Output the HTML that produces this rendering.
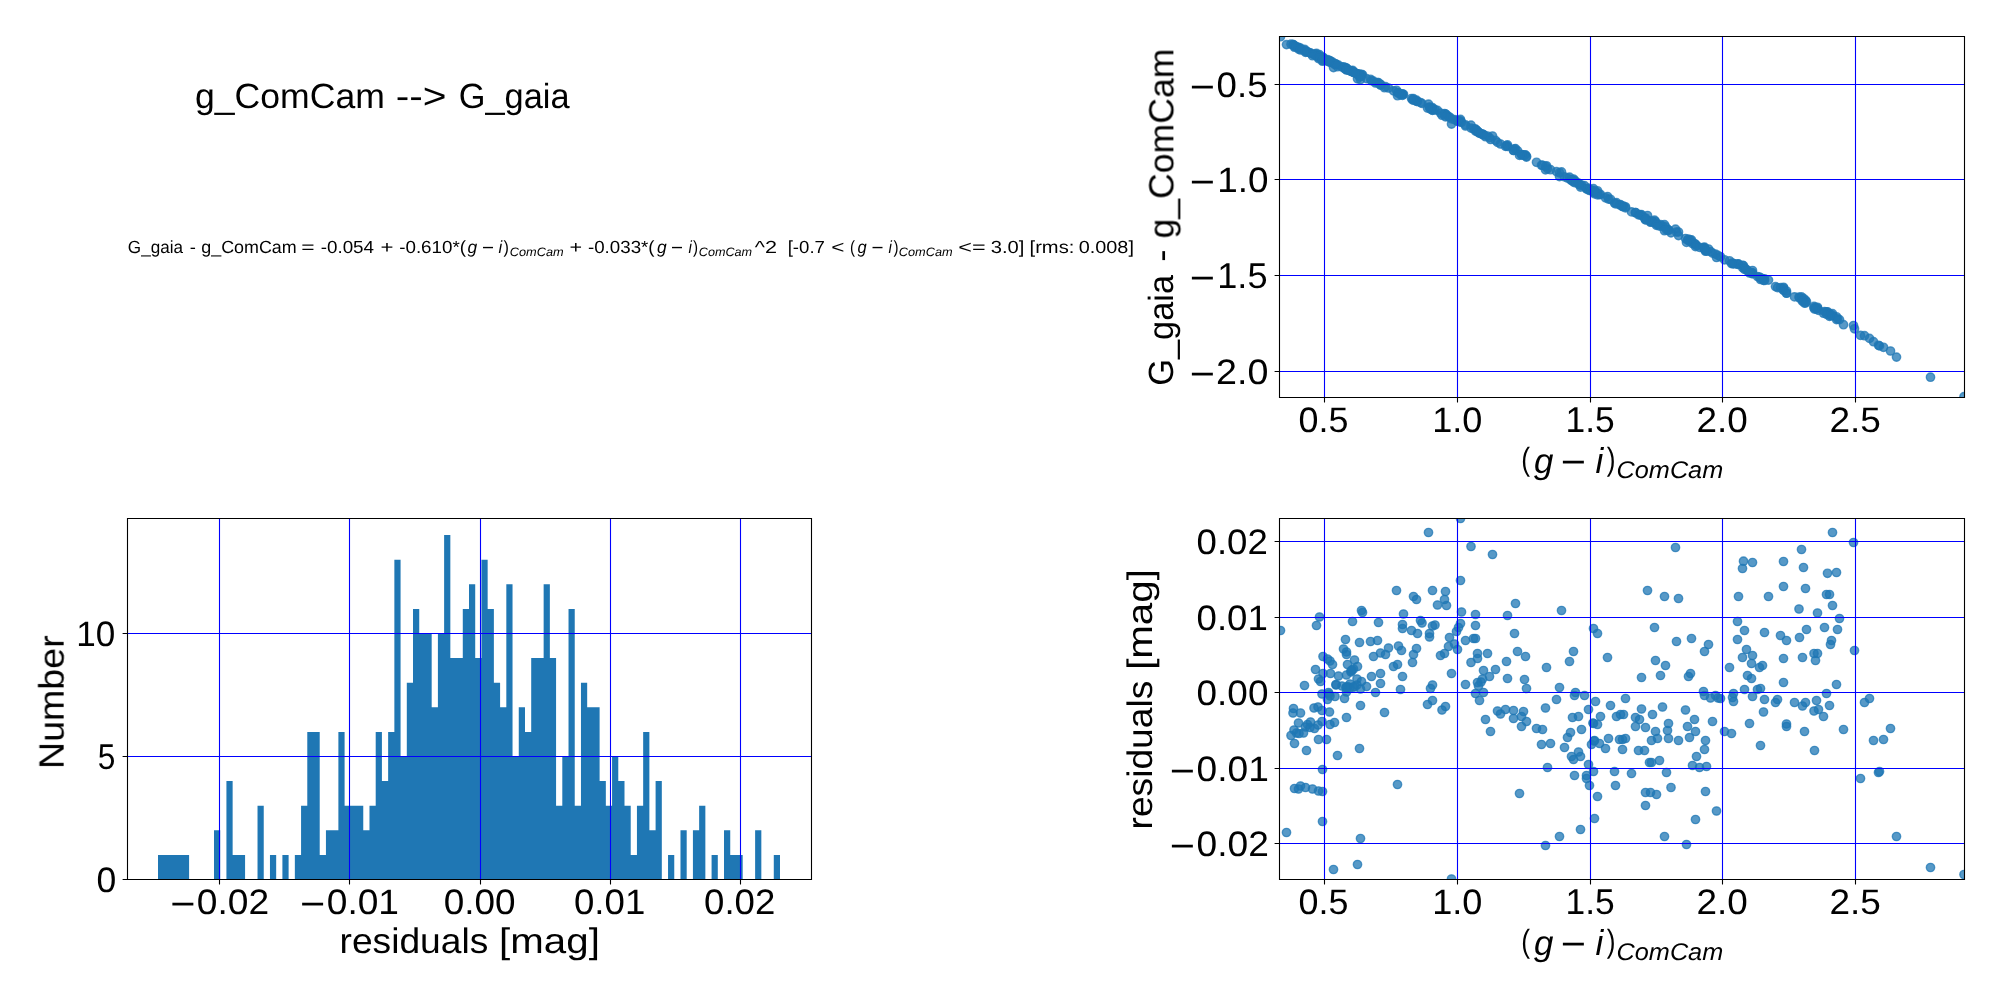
<!DOCTYPE html>
<html><head><meta charset="utf-8"><title>g_ComCam to G_gaia</title>
<style>
html,body{margin:0;padding:0;background:#fff;}
body{width:2000px;height:1000px;overflow:hidden;}
svg{display:block;font-family:"Liberation Sans",sans-serif;font-kerning:none;}
text{fill:#000;white-space:pre;text-rendering:geometricPrecision;}
</style></head><body>
<svg width="2000" height="1000" viewBox="0 0 2000 1000">
<rect width="2000" height="1000" fill="#fff"/>
<defs>
<clipPath id="cTR"><rect x="1279.5" y="36.5" width="685.0" height="361.0"/></clipPath>
<clipPath id="cBL"><rect x="127.5" y="518.5" width="684.0" height="361.0"/></clipPath>
<clipPath id="cBR"><rect x="1279.5" y="518.5" width="685.0" height="361.0"/></clipPath>
</defs>
<g clip-path="url(#cTR)" fill="#1f77b4" fill-opacity="0.75" stroke="#1f77b4" stroke-opacity="0.75" stroke-width="1.39">
<circle cx="1460.5" cy="119.4" r="4.17"/><circle cx="1428.5" cy="104.2" r="4.17"/><circle cx="1471.0" cy="125.2" r="4.17"/><circle cx="1460.5" cy="120.9" r="4.17"/><circle cx="1396.5" cy="90.3" r="4.17"/><circle cx="1432.5" cy="107.6" r="4.17"/><circle cx="1445.5" cy="113.9" r="4.17"/><circle cx="1413.5" cy="98.6" r="4.17"/><circle cx="1416.5" cy="100.1" r="4.17"/><circle cx="1444.5" cy="113.6" r="4.17"/><circle cx="1437.5" cy="110.4" r="4.17"/><circle cx="1446.5" cy="114.8" r="4.17"/><circle cx="1361.5" cy="74.3" r="4.17"/><circle cx="1362.5" cy="74.8" r="4.17"/><circle cx="1403.5" cy="94.3" r="4.17"/><circle cx="1461.5" cy="122.2" r="4.17"/><circle cx="1492.5" cy="136.0" r="4.17"/><circle cx="1515.5" cy="148.6" r="4.17"/><circle cx="1561.5" cy="171.9" r="4.17"/><circle cx="1647.5" cy="215.5" r="4.17"/><circle cx="1664.5" cy="224.6" r="4.17"/><circle cx="1475.5" cy="129.1" r="4.17"/><circle cx="1675.5" cy="229.1" r="4.17"/><circle cx="1678.5" cy="232.0" r="4.17"/><circle cx="1743.5" cy="265.7" r="4.17"/><circle cx="1752.5" cy="270.5" r="4.17"/><circle cx="1742.5" cy="265.3" r="4.17"/><circle cx="1738.5" cy="263.9" r="4.17"/><circle cx="1768.5" cy="280.1" r="4.17"/><circle cx="1783.5" cy="287.3" r="4.17"/><circle cx="1783.5" cy="288.0" r="4.17"/><circle cx="1801.5" cy="296.9" r="4.17"/><circle cx="1803.5" cy="298.4" r="4.17"/><circle cx="1805.5" cy="300.1" r="4.17"/><circle cx="1799.0" cy="297.0" r="4.17"/><circle cx="1817.5" cy="307.3" r="4.17"/><circle cx="1827.5" cy="311.8" r="4.17"/><circle cx="1836.5" cy="316.8" r="4.17"/><circle cx="1826.5" cy="311.8" r="4.17"/><circle cx="1829.5" cy="313.5" r="4.17"/><circle cx="1832.5" cy="313.6" r="4.17"/><circle cx="1832.5" cy="315.4" r="4.17"/><circle cx="1853.5" cy="325.5" r="4.17"/><circle cx="1319.5" cy="54.6" r="4.17"/><circle cx="1316.5" cy="53.4" r="4.17"/><circle cx="1280.5" cy="36.7" r="4.17"/><circle cx="1352.5" cy="70.3" r="4.17"/><circle cx="1378.5" cy="82.6" r="4.17"/><circle cx="1402.5" cy="94.1" r="4.17"/><circle cx="1402.5" cy="94.2" r="4.17"/><circle cx="1411.5" cy="98.5" r="4.17"/><circle cx="1417.5" cy="101.5" r="4.17"/><circle cx="1420.5" cy="102.6" r="4.17"/><circle cx="1422.0" cy="103.4" r="4.17"/><circle cx="1432.5" cy="108.5" r="4.17"/><circle cx="1435.0" cy="109.7" r="4.17"/><circle cx="1429.5" cy="107.2" r="4.17"/><circle cx="1429.5" cy="107.3" r="4.17"/><circle cx="1460.5" cy="122.0" r="4.17"/><circle cx="1458.5" cy="121.2" r="4.17"/><circle cx="1456.5" cy="120.3" r="4.17"/><circle cx="1449.5" cy="117.0" r="4.17"/><circle cx="1465.5" cy="124.9" r="4.17"/><circle cx="1454.5" cy="119.6" r="4.17"/><circle cx="1448.5" cy="116.8" r="4.17"/><circle cx="1457.5" cy="121.2" r="4.17"/><circle cx="1444.5" cy="115.0" r="4.17"/><circle cx="1440.5" cy="113.1" r="4.17"/><circle cx="1345.5" cy="67.5" r="4.17"/><circle cx="1359.5" cy="74.2" r="4.17"/><circle cx="1370.5" cy="79.3" r="4.17"/><circle cx="1377.5" cy="82.6" r="4.17"/><circle cx="1388.5" cy="88.0" r="4.17"/><circle cx="1398.5" cy="92.7" r="4.17"/><circle cx="1401.5" cy="94.2" r="4.17"/><circle cx="1416.5" cy="101.4" r="4.17"/><circle cx="1413.5" cy="100.1" r="4.17"/><circle cx="1412.5" cy="99.8" r="4.17"/><circle cx="1380.5" cy="84.3" r="4.17"/><circle cx="1385.5" cy="86.7" r="4.17"/><circle cx="1373.5" cy="81.1" r="4.17"/><circle cx="1343.5" cy="66.8" r="4.17"/><circle cx="1346.5" cy="68.3" r="4.17"/><circle cx="1346.5" cy="68.4" r="4.17"/><circle cx="1323.0" cy="57.3" r="4.17"/><circle cx="1327.5" cy="59.5" r="4.17"/><circle cx="1330.0" cy="60.7" r="4.17"/><circle cx="1332.5" cy="62.0" r="4.17"/><circle cx="1354.5" cy="72.3" r="4.17"/><circle cx="1347.5" cy="69.1" r="4.17"/><circle cx="1357.5" cy="73.8" r="4.17"/><circle cx="1353.5" cy="72.0" r="4.17"/><circle cx="1351.0" cy="70.9" r="4.17"/><circle cx="1393.5" cy="90.8" r="4.17"/><circle cx="1397.5" cy="92.7" r="4.17"/><circle cx="1315.5" cy="54.1" r="4.17"/><circle cx="1323.0" cy="57.7" r="4.17"/><circle cx="1330.5" cy="61.3" r="4.17"/><circle cx="1338.5" cy="65.1" r="4.17"/><circle cx="1346.5" cy="68.9" r="4.17"/><circle cx="1371.5" cy="80.7" r="4.17"/><circle cx="1380.5" cy="84.8" r="4.17"/><circle cx="1402.5" cy="95.4" r="4.17"/><circle cx="1451.5" cy="118.9" r="4.17"/><circle cx="1318.5" cy="55.7" r="4.17"/><circle cx="1320.5" cy="56.7" r="4.17"/><circle cx="1304.5" cy="49.3" r="4.17"/><circle cx="1357.0" cy="73.9" r="4.17"/><circle cx="1361.5" cy="76.1" r="4.17"/><circle cx="1336.0" cy="64.1" r="4.17"/><circle cx="1342.0" cy="67.0" r="4.17"/><circle cx="1346.0" cy="69.0" r="4.17"/><circle cx="1350.0" cy="70.8" r="4.17"/><circle cx="1353.0" cy="72.2" r="4.17"/><circle cx="1357.0" cy="74.1" r="4.17"/><circle cx="1360.5" cy="75.8" r="4.17"/><circle cx="1366.5" cy="78.6" r="4.17"/><circle cx="1380.5" cy="85.1" r="4.17"/><circle cx="1400.5" cy="94.8" r="4.17"/><circle cx="1432.5" cy="110.0" r="4.17"/><circle cx="1430.5" cy="109.1" r="4.17"/><circle cx="1465.5" cy="126.0" r="4.17"/><circle cx="1471.0" cy="128.1" r="4.17"/><circle cx="1375.5" cy="83.0" r="4.17"/><circle cx="1322.0" cy="57.8" r="4.17"/><circle cx="1328.5" cy="60.8" r="4.17"/><circle cx="1330.0" cy="61.6" r="4.17"/><circle cx="1335.0" cy="64.0" r="4.17"/><circle cx="1327.5" cy="60.5" r="4.17"/><circle cx="1344.5" cy="68.6" r="4.17"/><circle cx="1346.5" cy="69.3" r="4.17"/><circle cx="1360.5" cy="76.2" r="4.17"/><circle cx="1432.5" cy="110.4" r="4.17"/><circle cx="1427.5" cy="108.1" r="4.17"/><circle cx="1445.5" cy="116.8" r="4.17"/><circle cx="1442.0" cy="115.2" r="4.17"/><circle cx="1293.5" cy="44.7" r="4.17"/><circle cx="1300.5" cy="48.1" r="4.17"/><circle cx="1314.0" cy="54.3" r="4.17"/><circle cx="1318.0" cy="56.2" r="4.17"/><circle cx="1322.0" cy="58.2" r="4.17"/><circle cx="1329.5" cy="61.8" r="4.17"/><circle cx="1384.5" cy="87.7" r="4.17"/><circle cx="1507.5" cy="144.9" r="4.17"/><circle cx="1475.5" cy="129.4" r="4.17"/><circle cx="1473.5" cy="128.8" r="4.17"/><circle cx="1475.5" cy="129.7" r="4.17"/><circle cx="1514.5" cy="148.9" r="4.17"/><circle cx="1593.5" cy="188.6" r="4.17"/><circle cx="1597.5" cy="190.8" r="4.17"/><circle cx="1654.5" cy="220.1" r="4.17"/><circle cx="1477.5" cy="131.1" r="4.17"/><circle cx="1477.5" cy="131.2" r="4.17"/><circle cx="1487.5" cy="136.0" r="4.17"/><circle cx="1517.5" cy="150.8" r="4.17"/><circle cx="1525.5" cy="154.9" r="4.17"/><circle cx="1506.5" cy="145.6" r="4.17"/><circle cx="1573.5" cy="179.0" r="4.17"/><circle cx="1569.5" cy="177.2" r="4.17"/><circle cx="1546.5" cy="165.8" r="4.17"/><circle cx="1607.5" cy="196.5" r="4.17"/><circle cx="1655.5" cy="221.5" r="4.17"/><circle cx="1665.5" cy="226.8" r="4.17"/><circle cx="1660.5" cy="224.5" r="4.17"/><circle cx="1641.5" cy="214.6" r="4.17"/><circle cx="1483.5" cy="134.5" r="4.17"/><circle cx="1495.5" cy="140.4" r="4.17"/><circle cx="1489.5" cy="137.6" r="4.17"/><circle cx="1482.5" cy="134.2" r="4.17"/><circle cx="1477.5" cy="131.8" r="4.17"/><circle cx="1481.0" cy="133.5" r="4.17"/><circle cx="1478.5" cy="132.4" r="4.17"/><circle cx="1507.5" cy="146.5" r="4.17"/><circle cx="1524.5" cy="155.0" r="4.17"/><circle cx="1526.5" cy="156.3" r="4.17"/><circle cx="1559.5" cy="172.8" r="4.17"/><circle cx="1575.5" cy="181.1" r="4.17"/><circle cx="1574.5" cy="180.6" r="4.17"/><circle cx="1584.5" cy="185.7" r="4.17"/><circle cx="1556.5" cy="171.6" r="4.17"/><circle cx="1475.5" cy="131.1" r="4.17"/><circle cx="1483.5" cy="135.0" r="4.17"/><circle cx="1479.5" cy="133.3" r="4.17"/><circle cx="1595.5" cy="191.5" r="4.17"/><circle cx="1625.5" cy="206.8" r="4.17"/><circle cx="1610.5" cy="199.3" r="4.17"/><circle cx="1588.5" cy="188.1" r="4.17"/><circle cx="1545.5" cy="166.3" r="4.17"/><circle cx="1497.5" cy="142.4" r="4.17"/><circle cx="1505.5" cy="146.3" r="4.17"/><circle cx="1513.5" cy="150.3" r="4.17"/><circle cx="1523.5" cy="155.3" r="4.17"/><circle cx="1641.5" cy="215.4" r="4.17"/><circle cx="1662.5" cy="226.3" r="4.17"/><circle cx="1839.5" cy="319.6" r="4.17"/><circle cx="1737.5" cy="264.0" r="4.17"/><circle cx="1744.5" cy="267.9" r="4.17"/><circle cx="1737.5" cy="264.4" r="4.17"/><circle cx="1764.5" cy="278.8" r="4.17"/><circle cx="1780.5" cy="287.6" r="4.17"/><circle cx="1786.5" cy="291.0" r="4.17"/><circle cx="1799.5" cy="298.0" r="4.17"/><circle cx="1806.5" cy="301.7" r="4.17"/><circle cx="1824.5" cy="311.5" r="4.17"/><circle cx="1837.5" cy="318.8" r="4.17"/><circle cx="1831.5" cy="315.7" r="4.17"/><circle cx="1830.5" cy="315.3" r="4.17"/><circle cx="1854.5" cy="328.8" r="4.17"/><circle cx="1676.5" cy="232.0" r="4.17"/><circle cx="1691.5" cy="239.9" r="4.17"/><circle cx="1708.5" cy="249.0" r="4.17"/><circle cx="1704.5" cy="247.1" r="4.17"/><circle cx="1746.5" cy="269.5" r="4.17"/><circle cx="1752.5" cy="272.9" r="4.17"/><circle cx="1742.5" cy="267.6" r="4.17"/><circle cx="1751.5" cy="272.6" r="4.17"/><circle cx="1762.5" cy="278.6" r="4.17"/><circle cx="1759.5" cy="277.0" r="4.17"/><circle cx="1729.5" cy="260.8" r="4.17"/><circle cx="1783.5" cy="289.8" r="4.17"/><circle cx="1802.5" cy="300.2" r="4.17"/><circle cx="1814.0" cy="306.4" r="4.17"/><circle cx="1817.5" cy="308.3" r="4.17"/><circle cx="1815.5" cy="307.4" r="4.17"/><circle cx="1690.5" cy="240.2" r="4.17"/><circle cx="1688.5" cy="239.2" r="4.17"/><circle cx="1747.5" cy="270.7" r="4.17"/><circle cx="1751.5" cy="272.9" r="4.17"/><circle cx="1783.5" cy="290.4" r="4.17"/><circle cx="1836.5" cy="319.6" r="4.17"/><circle cx="1744.5" cy="269.4" r="4.17"/><circle cx="1757.5" cy="276.5" r="4.17"/><circle cx="1760.5" cy="278.1" r="4.17"/><circle cx="1703.5" cy="247.6" r="4.17"/><circle cx="1704.5" cy="248.2" r="4.17"/><circle cx="1710.5" cy="251.5" r="4.17"/><circle cx="1715.5" cy="254.1" r="4.17"/><circle cx="1718.0" cy="255.4" r="4.17"/><circle cx="1720.5" cy="256.8" r="4.17"/><circle cx="1733.5" cy="263.6" r="4.17"/><circle cx="1732.5" cy="263.2" r="4.17"/><circle cx="1733.5" cy="263.8" r="4.17"/><circle cx="1752.5" cy="273.9" r="4.17"/><circle cx="1764.5" cy="280.5" r="4.17"/><circle cx="1777.5" cy="287.6" r="4.17"/><circle cx="1775.5" cy="286.6" r="4.17"/><circle cx="1794.5" cy="296.9" r="4.17"/><circle cx="1805.5" cy="303.0" r="4.17"/><circle cx="1802.5" cy="301.4" r="4.17"/><circle cx="1816.5" cy="309.0" r="4.17"/><circle cx="1826.5" cy="314.3" r="4.17"/><circle cx="1829.5" cy="316.3" r="4.17"/><circle cx="1818.5" cy="310.3" r="4.17"/><circle cx="1814.0" cy="307.9" r="4.17"/><circle cx="1763.5" cy="280.3" r="4.17"/><circle cx="1685.5" cy="238.5" r="4.17"/><circle cx="1864.5" cy="335.7" r="4.17"/><circle cx="1869.5" cy="338.4" r="4.17"/><circle cx="1293.0" cy="44.6" r="4.17"/><circle cx="1346.5" cy="70.0" r="4.17"/><circle cx="1298.5" cy="47.4" r="4.17"/><circle cx="1310.5" cy="53.0" r="4.17"/><circle cx="1307.5" cy="51.7" r="4.17"/><circle cx="1305.5" cy="50.8" r="4.17"/><circle cx="1310.0" cy="52.9" r="4.17"/><circle cx="1314.5" cy="55.1" r="4.17"/><circle cx="1318.0" cy="56.6" r="4.17"/><circle cx="1322.0" cy="58.4" r="4.17"/><circle cx="1330.0" cy="62.3" r="4.17"/><circle cx="1334.5" cy="64.4" r="4.17"/><circle cx="1294.0" cy="45.5" r="4.17"/><circle cx="1296.5" cy="46.7" r="4.17"/><circle cx="1291.0" cy="44.2" r="4.17"/><circle cx="1303.5" cy="50.0" r="4.17"/><circle cx="1299.0" cy="47.9" r="4.17"/><circle cx="1318.5" cy="57.2" r="4.17"/><circle cx="1326.5" cy="61.0" r="4.17"/><circle cx="1294.5" cy="46.1" r="4.17"/><circle cx="1306.5" cy="51.9" r="4.17"/><circle cx="1337.5" cy="66.7" r="4.17"/><circle cx="1359.5" cy="76.8" r="4.17"/><circle cx="1322.5" cy="59.9" r="4.17"/><circle cx="1397.5" cy="95.7" r="4.17"/><circle cx="1294.5" cy="47.2" r="4.17"/><circle cx="1298.5" cy="49.1" r="4.17"/><circle cx="1300.5" cy="50.0" r="4.17"/><circle cx="1305.5" cy="52.3" r="4.17"/><circle cx="1312.5" cy="55.7" r="4.17"/><circle cx="1318.5" cy="58.6" r="4.17"/><circle cx="1322.5" cy="60.5" r="4.17"/><circle cx="1500.5" cy="144.0" r="4.17"/><circle cx="1485.5" cy="136.7" r="4.17"/><circle cx="1490.5" cy="139.5" r="4.17"/><circle cx="1513.5" cy="150.5" r="4.17"/><circle cx="1521.5" cy="154.5" r="4.17"/><circle cx="1526.5" cy="157.1" r="4.17"/><circle cx="1521.5" cy="154.7" r="4.17"/><circle cx="1536.5" cy="162.3" r="4.17"/><circle cx="1542.5" cy="165.3" r="4.17"/><circle cx="1572.5" cy="180.2" r="4.17"/><circle cx="1578.5" cy="183.2" r="4.17"/><circle cx="1600.5" cy="194.4" r="4.17"/><circle cx="1593.0" cy="190.7" r="4.17"/><circle cx="1597.5" cy="193.1" r="4.17"/><circle cx="1581.5" cy="185.0" r="4.17"/><circle cx="1570.5" cy="179.5" r="4.17"/><circle cx="1567.5" cy="178.1" r="4.17"/><circle cx="1541.5" cy="165.2" r="4.17"/><circle cx="1550.5" cy="169.7" r="4.17"/><circle cx="1564.5" cy="176.9" r="4.17"/><circle cx="1578.5" cy="184.1" r="4.17"/><circle cx="1580.5" cy="185.2" r="4.17"/><circle cx="1571.5" cy="180.6" r="4.17"/><circle cx="1573.5" cy="181.7" r="4.17"/><circle cx="1588.5" cy="189.5" r="4.17"/><circle cx="1547.5" cy="168.8" r="4.17"/><circle cx="1574.5" cy="182.6" r="4.17"/><circle cx="1586.5" cy="188.8" r="4.17"/><circle cx="1586.5" cy="188.8" r="4.17"/><circle cx="1589.5" cy="190.5" r="4.17"/><circle cx="1593.5" cy="192.2" r="4.17"/><circle cx="1597.5" cy="194.9" r="4.17"/><circle cx="1519.5" cy="155.4" r="4.17"/><circle cx="1591.5" cy="190.5" r="4.17"/><circle cx="1594.5" cy="192.0" r="4.17"/><circle cx="1599.5" cy="194.6" r="4.17"/><circle cx="1605.5" cy="197.8" r="4.17"/><circle cx="1608.5" cy="199.1" r="4.17"/><circle cx="1616.5" cy="202.7" r="4.17"/><circle cx="1620.5" cy="204.7" r="4.17"/><circle cx="1623.5" cy="206.2" r="4.17"/><circle cx="1635.5" cy="212.5" r="4.17"/><circle cx="1639.5" cy="214.6" r="4.17"/><circle cx="1635.5" cy="212.7" r="4.17"/><circle cx="1645.5" cy="218.0" r="4.17"/><circle cx="1652.5" cy="221.3" r="4.17"/><circle cx="1655.5" cy="223.3" r="4.17"/><circle cx="1668.5" cy="229.9" r="4.17"/><circle cx="1667.5" cy="229.5" r="4.17"/><circle cx="1668.5" cy="230.3" r="4.17"/><circle cx="1657.5" cy="224.5" r="4.17"/><circle cx="1651.5" cy="221.4" r="4.17"/><circle cx="1619.5" cy="204.8" r="4.17"/><circle cx="1622.5" cy="206.3" r="4.17"/><circle cx="1625.5" cy="207.9" r="4.17"/><circle cx="1622.5" cy="206.6" r="4.17"/><circle cx="1638.5" cy="214.9" r="4.17"/><circle cx="1644.5" cy="218.0" r="4.17"/><circle cx="1649.5" cy="220.9" r="4.17"/><circle cx="1651.5" cy="222.0" r="4.17"/><circle cx="1659.5" cy="226.1" r="4.17"/><circle cx="1614.5" cy="203.0" r="4.17"/><circle cx="1631.5" cy="211.9" r="4.17"/><circle cx="1666.5" cy="230.1" r="4.17"/><circle cx="1615.5" cy="203.9" r="4.17"/><circle cx="1645.5" cy="219.6" r="4.17"/><circle cx="1650.5" cy="222.2" r="4.17"/><circle cx="1656.5" cy="225.4" r="4.17"/><circle cx="1645.5" cy="219.9" r="4.17"/><circle cx="1671.0" cy="232.8" r="4.17"/><circle cx="1823.5" cy="313.2" r="4.17"/><circle cx="1694.5" cy="243.5" r="4.17"/><circle cx="1712.5" cy="253.1" r="4.17"/><circle cx="1687.5" cy="240.0" r="4.17"/><circle cx="1695.5" cy="244.3" r="4.17"/><circle cx="1689.5" cy="241.3" r="4.17"/><circle cx="1678.5" cy="235.6" r="4.17"/><circle cx="1705.5" cy="249.9" r="4.17"/><circle cx="1704.5" cy="249.6" r="4.17"/><circle cx="1696.5" cy="245.5" r="4.17"/><circle cx="1692.5" cy="243.6" r="4.17"/><circle cx="1699.5" cy="247.4" r="4.17"/><circle cx="1706.5" cy="251.1" r="4.17"/><circle cx="1705.5" cy="251.2" r="4.17"/><circle cx="1716.5" cy="257.5" r="4.17"/><circle cx="1724.5" cy="259.8" r="4.17"/><circle cx="1731.5" cy="263.6" r="4.17"/><circle cx="1749.5" cy="273.0" r="4.17"/><circle cx="1760.5" cy="279.5" r="4.17"/><circle cx="1786.5" cy="293.1" r="4.17"/><circle cx="1786.5" cy="293.2" r="4.17"/><circle cx="1804.5" cy="303.1" r="4.17"/><circle cx="1814.5" cy="309.1" r="4.17"/><circle cx="1843.5" cy="324.7" r="4.17"/><circle cx="1860.5" cy="335.4" r="4.17"/><circle cx="1873.5" cy="341.7" r="4.17"/><circle cx="1883.5" cy="347.3" r="4.17"/><circle cx="1890.5" cy="351.0" r="4.17"/><circle cx="1878.5" cy="345.3" r="4.17"/><circle cx="1879.5" cy="345.9" r="4.17"/><circle cx="1286.5" cy="44.6" r="4.17"/><circle cx="1322.5" cy="61.2" r="4.17"/><circle cx="1360.5" cy="79.6" r="4.17"/><circle cx="1333.5" cy="67.6" r="4.17"/><circle cx="1357.5" cy="78.8" r="4.17"/><circle cx="1451.5" cy="124.1" r="4.17"/><circle cx="1545.5" cy="169.8" r="4.17"/><circle cx="1559.5" cy="176.6" r="4.17"/><circle cx="1580.5" cy="187.1" r="4.17"/><circle cx="1594.5" cy="193.9" r="4.17"/><circle cx="1664.5" cy="230.7" r="4.17"/><circle cx="1695.5" cy="246.6" r="4.17"/><circle cx="1686.5" cy="242.4" r="4.17"/><circle cx="1896.5" cy="357.1" r="4.17"/><circle cx="1930.5" cy="377.2" r="4.17"/><circle cx="1964.0" cy="396.7" r="4.17"/><circle cx="1351.0" cy="70.9" r="4.17"/><circle cx="1352.0" cy="71.3" r="4.17"/><circle cx="1346.5" cy="69.2" r="4.17"/><circle cx="1347.5" cy="69.7" r="4.17"/><circle cx="1350.0" cy="70.9" r="4.17"/><circle cx="1336.0" cy="64.2" r="4.17"/><circle cx="1329.0" cy="61.1" r="4.17"/><circle cx="1354.5" cy="72.9" r="4.17"/><circle cx="1593.5" cy="191.0" r="4.17"/><circle cx="1594.0" cy="191.7" r="4.17"/>
</g>
<g clip-path="url(#cBR)" fill="#1f77b4" fill-opacity="0.75" stroke="#1f77b4" stroke-opacity="0.75" stroke-width="1.39">
<circle cx="1460.5" cy="518.5" r="4.17"/><circle cx="1428.5" cy="532.5" r="4.17"/><circle cx="1471.0" cy="546.5" r="4.17"/><circle cx="1460.5" cy="580.5" r="4.17"/><circle cx="1396.5" cy="590.5" r="4.17"/><circle cx="1432.5" cy="590.5" r="4.17"/><circle cx="1445.5" cy="591.5" r="4.17"/><circle cx="1413.5" cy="596.5" r="4.17"/><circle cx="1416.5" cy="599.5" r="4.17"/><circle cx="1444.5" cy="599.5" r="4.17"/><circle cx="1437.5" cy="605.0" r="4.17"/><circle cx="1446.5" cy="605.5" r="4.17"/><circle cx="1361.5" cy="610.5" r="4.17"/><circle cx="1362.5" cy="612.5" r="4.17"/><circle cx="1403.5" cy="614.0" r="4.17"/><circle cx="1461.5" cy="612.0" r="4.17"/><circle cx="1492.5" cy="554.5" r="4.17"/><circle cx="1515.5" cy="603.5" r="4.17"/><circle cx="1561.5" cy="610.5" r="4.17"/><circle cx="1647.5" cy="590.5" r="4.17"/><circle cx="1664.5" cy="596.5" r="4.17"/><circle cx="1475.5" cy="614.5" r="4.17"/><circle cx="1675.5" cy="547.5" r="4.17"/><circle cx="1678.5" cy="598.5" r="4.17"/><circle cx="1743.5" cy="561.2" r="4.17"/><circle cx="1752.5" cy="562.5" r="4.17"/><circle cx="1742.5" cy="568.5" r="4.17"/><circle cx="1738.5" cy="596.5" r="4.17"/><circle cx="1768.5" cy="596.5" r="4.17"/><circle cx="1783.5" cy="561.5" r="4.17"/><circle cx="1783.5" cy="586.5" r="4.17"/><circle cx="1801.5" cy="549.5" r="4.17"/><circle cx="1803.5" cy="567.5" r="4.17"/><circle cx="1805.5" cy="588.5" r="4.17"/><circle cx="1799.0" cy="609.0" r="4.17"/><circle cx="1817.5" cy="613.0" r="4.17"/><circle cx="1827.5" cy="573.3" r="4.17"/><circle cx="1836.5" cy="572.5" r="4.17"/><circle cx="1826.5" cy="594.5" r="4.17"/><circle cx="1829.5" cy="594.5" r="4.17"/><circle cx="1832.5" cy="532.5" r="4.17"/><circle cx="1832.5" cy="605.5" r="4.17"/><circle cx="1853.5" cy="542.5" r="4.17"/><circle cx="1319.5" cy="617.0" r="4.17"/><circle cx="1316.5" cy="625.5" r="4.17"/><circle cx="1280.5" cy="630.5" r="4.17"/><circle cx="1352.5" cy="621.5" r="4.17"/><circle cx="1378.5" cy="622.5" r="4.17"/><circle cx="1402.5" cy="624.5" r="4.17"/><circle cx="1402.5" cy="628.5" r="4.17"/><circle cx="1411.5" cy="630.5" r="4.17"/><circle cx="1417.5" cy="633.5" r="4.17"/><circle cx="1420.5" cy="620.5" r="4.17"/><circle cx="1422.0" cy="623.0" r="4.17"/><circle cx="1432.5" cy="626.0" r="4.17"/><circle cx="1435.0" cy="625.0" r="4.17"/><circle cx="1429.5" cy="633.5" r="4.17"/><circle cx="1429.5" cy="637.0" r="4.17"/><circle cx="1460.5" cy="623.5" r="4.17"/><circle cx="1458.5" cy="627.5" r="4.17"/><circle cx="1456.5" cy="631.5" r="4.17"/><circle cx="1449.5" cy="637.5" r="4.17"/><circle cx="1465.5" cy="640.5" r="4.17"/><circle cx="1454.5" cy="644.0" r="4.17"/><circle cx="1448.5" cy="646.5" r="4.17"/><circle cx="1457.5" cy="649.5" r="4.17"/><circle cx="1444.5" cy="653.5" r="4.17"/><circle cx="1440.5" cy="655.5" r="4.17"/><circle cx="1345.5" cy="639.5" r="4.17"/><circle cx="1359.5" cy="642.5" r="4.17"/><circle cx="1370.5" cy="641.5" r="4.17"/><circle cx="1377.5" cy="640.5" r="4.17"/><circle cx="1388.5" cy="648.0" r="4.17"/><circle cx="1398.5" cy="646.0" r="4.17"/><circle cx="1401.5" cy="650.5" r="4.17"/><circle cx="1416.5" cy="648.5" r="4.17"/><circle cx="1413.5" cy="654.5" r="4.17"/><circle cx="1412.5" cy="662.5" r="4.17"/><circle cx="1380.5" cy="653.0" r="4.17"/><circle cx="1385.5" cy="654.5" r="4.17"/><circle cx="1373.5" cy="656.5" r="4.17"/><circle cx="1343.5" cy="649.0" r="4.17"/><circle cx="1346.5" cy="652.0" r="4.17"/><circle cx="1346.5" cy="654.5" r="4.17"/><circle cx="1323.0" cy="656.5" r="4.17"/><circle cx="1327.5" cy="659.0" r="4.17"/><circle cx="1330.0" cy="661.0" r="4.17"/><circle cx="1332.5" cy="664.5" r="4.17"/><circle cx="1354.5" cy="660.0" r="4.17"/><circle cx="1347.5" cy="664.5" r="4.17"/><circle cx="1357.5" cy="666.5" r="4.17"/><circle cx="1353.5" cy="669.0" r="4.17"/><circle cx="1351.0" cy="672.0" r="4.17"/><circle cx="1393.5" cy="666.5" r="4.17"/><circle cx="1397.5" cy="664.5" r="4.17"/><circle cx="1315.5" cy="669.5" r="4.17"/><circle cx="1323.0" cy="673.5" r="4.17"/><circle cx="1330.5" cy="673.5" r="4.17"/><circle cx="1338.5" cy="676.0" r="4.17"/><circle cx="1346.5" cy="675.0" r="4.17"/><circle cx="1371.5" cy="676.5" r="4.17"/><circle cx="1380.5" cy="673.5" r="4.17"/><circle cx="1402.5" cy="676.5" r="4.17"/><circle cx="1451.5" cy="673.5" r="4.17"/><circle cx="1318.5" cy="679.0" r="4.17"/><circle cx="1320.5" cy="681.5" r="4.17"/><circle cx="1304.5" cy="685.5" r="4.17"/><circle cx="1357.0" cy="679.0" r="4.17"/><circle cx="1361.5" cy="681.5" r="4.17"/><circle cx="1336.0" cy="684.5" r="4.17"/><circle cx="1342.0" cy="686.0" r="4.17"/><circle cx="1346.0" cy="687.5" r="4.17"/><circle cx="1350.0" cy="684.0" r="4.17"/><circle cx="1353.0" cy="687.0" r="4.17"/><circle cx="1357.0" cy="685.0" r="4.17"/><circle cx="1360.5" cy="689.0" r="4.17"/><circle cx="1366.5" cy="686.5" r="4.17"/><circle cx="1380.5" cy="683.5" r="4.17"/><circle cx="1400.5" cy="689.5" r="4.17"/><circle cx="1432.5" cy="685.0" r="4.17"/><circle cx="1430.5" cy="688.5" r="4.17"/><circle cx="1465.5" cy="684.5" r="4.17"/><circle cx="1471.0" cy="662.5" r="4.17"/><circle cx="1375.5" cy="692.5" r="4.17"/><circle cx="1322.0" cy="694.0" r="4.17"/><circle cx="1328.5" cy="692.5" r="4.17"/><circle cx="1330.0" cy="696.0" r="4.17"/><circle cx="1335.0" cy="696.5" r="4.17"/><circle cx="1327.5" cy="699.5" r="4.17"/><circle cx="1344.5" cy="698.5" r="4.17"/><circle cx="1346.5" cy="692.0" r="4.17"/><circle cx="1360.5" cy="705.5" r="4.17"/><circle cx="1432.5" cy="700.5" r="4.17"/><circle cx="1427.5" cy="704.5" r="4.17"/><circle cx="1445.5" cy="706.5" r="4.17"/><circle cx="1442.0" cy="710.0" r="4.17"/><circle cx="1293.5" cy="708.5" r="4.17"/><circle cx="1300.5" cy="713.0" r="4.17"/><circle cx="1314.0" cy="708.0" r="4.17"/><circle cx="1318.0" cy="707.0" r="4.17"/><circle cx="1322.0" cy="710.5" r="4.17"/><circle cx="1329.5" cy="712.0" r="4.17"/><circle cx="1384.5" cy="712.5" r="4.17"/><circle cx="1507.5" cy="615.5" r="4.17"/><circle cx="1475.5" cy="625.5" r="4.17"/><circle cx="1473.5" cy="638.5" r="4.17"/><circle cx="1475.5" cy="638.5" r="4.17"/><circle cx="1514.5" cy="633.5" r="4.17"/><circle cx="1593.5" cy="628.5" r="4.17"/><circle cx="1597.5" cy="633.5" r="4.17"/><circle cx="1654.5" cy="627.5" r="4.17"/><circle cx="1477.5" cy="653.5" r="4.17"/><circle cx="1477.5" cy="658.5" r="4.17"/><circle cx="1487.5" cy="653.5" r="4.17"/><circle cx="1517.5" cy="651.5" r="4.17"/><circle cx="1525.5" cy="656.5" r="4.17"/><circle cx="1506.5" cy="661.5" r="4.17"/><circle cx="1573.5" cy="651.5" r="4.17"/><circle cx="1569.5" cy="661.5" r="4.17"/><circle cx="1546.5" cy="667.5" r="4.17"/><circle cx="1607.5" cy="657.5" r="4.17"/><circle cx="1655.5" cy="660.5" r="4.17"/><circle cx="1665.5" cy="665.5" r="4.17"/><circle cx="1660.5" cy="675.5" r="4.17"/><circle cx="1641.5" cy="677.5" r="4.17"/><circle cx="1483.5" cy="670.5" r="4.17"/><circle cx="1495.5" cy="669.5" r="4.17"/><circle cx="1489.5" cy="676.5" r="4.17"/><circle cx="1482.5" cy="679.0" r="4.17"/><circle cx="1477.5" cy="682.5" r="4.17"/><circle cx="1481.0" cy="682.0" r="4.17"/><circle cx="1478.5" cy="686.0" r="4.17"/><circle cx="1507.5" cy="678.5" r="4.17"/><circle cx="1524.5" cy="679.5" r="4.17"/><circle cx="1526.5" cy="688.5" r="4.17"/><circle cx="1559.5" cy="687.5" r="4.17"/><circle cx="1575.5" cy="692.5" r="4.17"/><circle cx="1574.5" cy="695.5" r="4.17"/><circle cx="1584.5" cy="695.5" r="4.17"/><circle cx="1556.5" cy="699.5" r="4.17"/><circle cx="1475.5" cy="693.5" r="4.17"/><circle cx="1483.5" cy="692.5" r="4.17"/><circle cx="1479.5" cy="700.5" r="4.17"/><circle cx="1595.5" cy="701.5" r="4.17"/><circle cx="1625.5" cy="698.5" r="4.17"/><circle cx="1610.5" cy="705.5" r="4.17"/><circle cx="1588.5" cy="709.5" r="4.17"/><circle cx="1545.5" cy="708.0" r="4.17"/><circle cx="1497.5" cy="711.0" r="4.17"/><circle cx="1505.5" cy="709.5" r="4.17"/><circle cx="1513.5" cy="710.5" r="4.17"/><circle cx="1523.5" cy="711.5" r="4.17"/><circle cx="1641.5" cy="709.0" r="4.17"/><circle cx="1662.5" cy="707.0" r="4.17"/><circle cx="1839.5" cy="618.5" r="4.17"/><circle cx="1737.5" cy="621.5" r="4.17"/><circle cx="1744.5" cy="630.5" r="4.17"/><circle cx="1737.5" cy="639.5" r="4.17"/><circle cx="1764.5" cy="632.5" r="4.17"/><circle cx="1780.5" cy="635.5" r="4.17"/><circle cx="1786.5" cy="640.5" r="4.17"/><circle cx="1799.5" cy="637.5" r="4.17"/><circle cx="1806.5" cy="629.5" r="4.17"/><circle cx="1824.5" cy="627.5" r="4.17"/><circle cx="1837.5" cy="629.5" r="4.17"/><circle cx="1831.5" cy="640.5" r="4.17"/><circle cx="1830.5" cy="644.5" r="4.17"/><circle cx="1854.5" cy="650.5" r="4.17"/><circle cx="1676.5" cy="641.5" r="4.17"/><circle cx="1691.5" cy="638.5" r="4.17"/><circle cx="1708.5" cy="644.5" r="4.17"/><circle cx="1704.5" cy="651.5" r="4.17"/><circle cx="1746.5" cy="649.5" r="4.17"/><circle cx="1752.5" cy="655.5" r="4.17"/><circle cx="1742.5" cy="657.5" r="4.17"/><circle cx="1751.5" cy="663.5" r="4.17"/><circle cx="1762.5" cy="665.5" r="4.17"/><circle cx="1759.5" cy="667.5" r="4.17"/><circle cx="1729.5" cy="667.5" r="4.17"/><circle cx="1783.5" cy="658.5" r="4.17"/><circle cx="1802.5" cy="657.5" r="4.17"/><circle cx="1814.0" cy="653.5" r="4.17"/><circle cx="1817.5" cy="653.5" r="4.17"/><circle cx="1815.5" cy="660.5" r="4.17"/><circle cx="1690.5" cy="673.5" r="4.17"/><circle cx="1688.5" cy="676.5" r="4.17"/><circle cx="1747.5" cy="675.5" r="4.17"/><circle cx="1751.5" cy="678.5" r="4.17"/><circle cx="1783.5" cy="682.5" r="4.17"/><circle cx="1836.5" cy="684.5" r="4.17"/><circle cx="1744.5" cy="689.5" r="4.17"/><circle cx="1757.5" cy="689.5" r="4.17"/><circle cx="1760.5" cy="688.5" r="4.17"/><circle cx="1703.5" cy="691.5" r="4.17"/><circle cx="1704.5" cy="695.5" r="4.17"/><circle cx="1710.5" cy="698.0" r="4.17"/><circle cx="1715.5" cy="695.5" r="4.17"/><circle cx="1718.0" cy="698.0" r="4.17"/><circle cx="1720.5" cy="698.5" r="4.17"/><circle cx="1733.5" cy="693.5" r="4.17"/><circle cx="1732.5" cy="697.5" r="4.17"/><circle cx="1733.5" cy="701.5" r="4.17"/><circle cx="1752.5" cy="696.5" r="4.17"/><circle cx="1764.5" cy="699.5" r="4.17"/><circle cx="1777.5" cy="699.5" r="4.17"/><circle cx="1775.5" cy="702.5" r="4.17"/><circle cx="1794.5" cy="702.5" r="4.17"/><circle cx="1805.5" cy="702.5" r="4.17"/><circle cx="1802.5" cy="706.0" r="4.17"/><circle cx="1816.5" cy="700.5" r="4.17"/><circle cx="1826.5" cy="693.5" r="4.17"/><circle cx="1829.5" cy="705.5" r="4.17"/><circle cx="1818.5" cy="709.5" r="4.17"/><circle cx="1814.0" cy="711.0" r="4.17"/><circle cx="1763.5" cy="712.0" r="4.17"/><circle cx="1685.5" cy="710.0" r="4.17"/><circle cx="1864.5" cy="702.5" r="4.17"/><circle cx="1869.5" cy="698.5" r="4.17"/><circle cx="1293.0" cy="713.0" r="4.17"/><circle cx="1346.5" cy="717.5" r="4.17"/><circle cx="1298.5" cy="723.0" r="4.17"/><circle cx="1310.5" cy="722.0" r="4.17"/><circle cx="1307.5" cy="724.5" r="4.17"/><circle cx="1305.5" cy="727.0" r="4.17"/><circle cx="1310.0" cy="727.5" r="4.17"/><circle cx="1314.5" cy="728.5" r="4.17"/><circle cx="1318.0" cy="725.0" r="4.17"/><circle cx="1322.0" cy="721.5" r="4.17"/><circle cx="1330.0" cy="724.5" r="4.17"/><circle cx="1334.5" cy="722.5" r="4.17"/><circle cx="1294.0" cy="730.0" r="4.17"/><circle cx="1296.5" cy="733.0" r="4.17"/><circle cx="1291.0" cy="735.5" r="4.17"/><circle cx="1303.5" cy="733.0" r="4.17"/><circle cx="1299.0" cy="733.5" r="4.17"/><circle cx="1318.5" cy="739.5" r="4.17"/><circle cx="1326.5" cy="739.5" r="4.17"/><circle cx="1294.5" cy="743.5" r="4.17"/><circle cx="1306.5" cy="750.5" r="4.17"/><circle cx="1337.5" cy="755.5" r="4.17"/><circle cx="1359.5" cy="748.5" r="4.17"/><circle cx="1322.5" cy="769.5" r="4.17"/><circle cx="1397.5" cy="784.5" r="4.17"/><circle cx="1294.5" cy="788.5" r="4.17"/><circle cx="1298.5" cy="789.0" r="4.17"/><circle cx="1300.5" cy="786.0" r="4.17"/><circle cx="1305.5" cy="787.5" r="4.17"/><circle cx="1312.5" cy="789.0" r="4.17"/><circle cx="1318.5" cy="791.0" r="4.17"/><circle cx="1322.5" cy="791.5" r="4.17"/><circle cx="1500.5" cy="714.0" r="4.17"/><circle cx="1485.5" cy="719.5" r="4.17"/><circle cx="1490.5" cy="731.5" r="4.17"/><circle cx="1513.5" cy="718.5" r="4.17"/><circle cx="1521.5" cy="716.5" r="4.17"/><circle cx="1526.5" cy="721.5" r="4.17"/><circle cx="1521.5" cy="726.5" r="4.17"/><circle cx="1536.5" cy="728.5" r="4.17"/><circle cx="1542.5" cy="729.5" r="4.17"/><circle cx="1572.5" cy="717.5" r="4.17"/><circle cx="1578.5" cy="716.5" r="4.17"/><circle cx="1600.5" cy="716.5" r="4.17"/><circle cx="1593.0" cy="723.0" r="4.17"/><circle cx="1597.5" cy="724.5" r="4.17"/><circle cx="1581.5" cy="729.5" r="4.17"/><circle cx="1570.5" cy="732.5" r="4.17"/><circle cx="1567.5" cy="737.5" r="4.17"/><circle cx="1541.5" cy="744.5" r="4.17"/><circle cx="1550.5" cy="743.5" r="4.17"/><circle cx="1564.5" cy="747.5" r="4.17"/><circle cx="1578.5" cy="752.0" r="4.17"/><circle cx="1580.5" cy="756.5" r="4.17"/><circle cx="1571.5" cy="756.5" r="4.17"/><circle cx="1573.5" cy="759.5" r="4.17"/><circle cx="1588.5" cy="764.5" r="4.17"/><circle cx="1547.5" cy="767.5" r="4.17"/><circle cx="1574.5" cy="775.5" r="4.17"/><circle cx="1586.5" cy="775.5" r="4.17"/><circle cx="1586.5" cy="778.5" r="4.17"/><circle cx="1589.5" cy="785.5" r="4.17"/><circle cx="1593.5" cy="771.5" r="4.17"/><circle cx="1597.5" cy="796.5" r="4.17"/><circle cx="1519.5" cy="793.5" r="4.17"/><circle cx="1591.5" cy="744.5" r="4.17"/><circle cx="1594.5" cy="740.5" r="4.17"/><circle cx="1599.5" cy="743.5" r="4.17"/><circle cx="1605.5" cy="748.5" r="4.17"/><circle cx="1608.5" cy="738.5" r="4.17"/><circle cx="1616.5" cy="716.5" r="4.17"/><circle cx="1620.5" cy="714.5" r="4.17"/><circle cx="1623.5" cy="714.5" r="4.17"/><circle cx="1635.5" cy="717.5" r="4.17"/><circle cx="1639.5" cy="719.5" r="4.17"/><circle cx="1635.5" cy="726.5" r="4.17"/><circle cx="1645.5" cy="727.5" r="4.17"/><circle cx="1652.5" cy="714.5" r="4.17"/><circle cx="1655.5" cy="731.5" r="4.17"/><circle cx="1668.5" cy="723.5" r="4.17"/><circle cx="1667.5" cy="730.5" r="4.17"/><circle cx="1668.5" cy="738.5" r="4.17"/><circle cx="1657.5" cy="738.5" r="4.17"/><circle cx="1651.5" cy="740.5" r="4.17"/><circle cx="1619.5" cy="739.5" r="4.17"/><circle cx="1622.5" cy="739.5" r="4.17"/><circle cx="1625.5" cy="738.5" r="4.17"/><circle cx="1622.5" cy="749.5" r="4.17"/><circle cx="1638.5" cy="750.5" r="4.17"/><circle cx="1644.5" cy="750.5" r="4.17"/><circle cx="1649.5" cy="762.5" r="4.17"/><circle cx="1651.5" cy="762.5" r="4.17"/><circle cx="1659.5" cy="760.5" r="4.17"/><circle cx="1614.5" cy="771.5" r="4.17"/><circle cx="1631.5" cy="773.5" r="4.17"/><circle cx="1666.5" cy="772.5" r="4.17"/><circle cx="1615.5" cy="785.5" r="4.17"/><circle cx="1645.5" cy="792.5" r="4.17"/><circle cx="1650.5" cy="792.5" r="4.17"/><circle cx="1656.5" cy="794.5" r="4.17"/><circle cx="1645.5" cy="805.5" r="4.17"/><circle cx="1671.0" cy="787.5" r="4.17"/><circle cx="1823.5" cy="716.5" r="4.17"/><circle cx="1694.5" cy="719.5" r="4.17"/><circle cx="1712.5" cy="721.5" r="4.17"/><circle cx="1687.5" cy="726.5" r="4.17"/><circle cx="1695.5" cy="731.5" r="4.17"/><circle cx="1689.5" cy="737.5" r="4.17"/><circle cx="1678.5" cy="740.5" r="4.17"/><circle cx="1705.5" cy="740.5" r="4.17"/><circle cx="1704.5" cy="749.5" r="4.17"/><circle cx="1696.5" cy="756.5" r="4.17"/><circle cx="1692.5" cy="765.5" r="4.17"/><circle cx="1699.5" cy="767.5" r="4.17"/><circle cx="1706.5" cy="766.5" r="4.17"/><circle cx="1705.5" cy="791.5" r="4.17"/><circle cx="1716.5" cy="811.0" r="4.17"/><circle cx="1724.5" cy="731.5" r="4.17"/><circle cx="1731.5" cy="733.5" r="4.17"/><circle cx="1749.5" cy="723.5" r="4.17"/><circle cx="1760.5" cy="745.5" r="4.17"/><circle cx="1786.5" cy="724.0" r="4.17"/><circle cx="1786.5" cy="726.5" r="4.17"/><circle cx="1804.5" cy="731.5" r="4.17"/><circle cx="1814.5" cy="750.5" r="4.17"/><circle cx="1843.5" cy="729.5" r="4.17"/><circle cx="1860.5" cy="778.5" r="4.17"/><circle cx="1873.5" cy="740.5" r="4.17"/><circle cx="1883.5" cy="739.5" r="4.17"/><circle cx="1890.5" cy="728.5" r="4.17"/><circle cx="1878.5" cy="772.5" r="4.17"/><circle cx="1879.5" cy="771.5" r="4.17"/><circle cx="1286.5" cy="832.5" r="4.17"/><circle cx="1322.5" cy="821.5" r="4.17"/><circle cx="1360.5" cy="838.5" r="4.17"/><circle cx="1333.5" cy="869.5" r="4.17"/><circle cx="1357.5" cy="864.5" r="4.17"/><circle cx="1451.5" cy="879.0" r="4.17"/><circle cx="1545.5" cy="845.5" r="4.17"/><circle cx="1559.5" cy="836.5" r="4.17"/><circle cx="1580.5" cy="829.5" r="4.17"/><circle cx="1594.5" cy="818.5" r="4.17"/><circle cx="1664.5" cy="836.5" r="4.17"/><circle cx="1695.5" cy="819.5" r="4.17"/><circle cx="1686.5" cy="844.5" r="4.17"/><circle cx="1896.5" cy="836.5" r="4.17"/><circle cx="1930.5" cy="867.5" r="4.17"/><circle cx="1964.0" cy="874.5" r="4.17"/><circle cx="1351.0" cy="671.0" r="4.17"/><circle cx="1352.0" cy="670.0" r="4.17"/><circle cx="1346.5" cy="687.5" r="4.17"/><circle cx="1347.5" cy="686.5" r="4.17"/><circle cx="1350.0" cy="688.0" r="4.17"/><circle cx="1336.0" cy="685.0" r="4.17"/><circle cx="1329.0" cy="694.0" r="4.17"/><circle cx="1354.5" cy="687.0" r="4.17"/><circle cx="1593.5" cy="723.5" r="4.17"/><circle cx="1594.0" cy="741.0" r="4.17"/>
</g>
<path d="M158.00,879.5L158.00,854.90L164.22,854.90L164.22,854.90L170.44,854.90L170.44,854.90L176.66,854.90L176.66,854.90L182.88,854.90L182.88,854.90L189.10,854.90L189.10,879.50L195.32,879.50L195.32,879.50L201.54,879.50L201.54,879.50L207.76,879.50L207.76,879.50L213.98,879.50L213.98,830.30L220.20,830.30L220.20,879.50L226.42,879.50L226.42,781.10L232.64,781.10L232.64,854.90L238.86,854.90L238.86,854.90L245.08,854.90L245.08,879.50L251.30,879.50L251.30,879.50L257.52,879.50L257.52,805.70L263.74,805.70L263.74,879.50L269.96,879.50L269.96,854.90L276.18,854.90L276.18,879.50L282.40,879.50L282.40,854.90L288.62,854.90L288.62,879.50L294.84,879.50L294.84,854.90L301.06,854.90L301.06,805.70L307.28,805.70L307.28,731.90L313.50,731.90L313.50,731.90L319.72,731.90L319.72,854.90L325.94,854.90L325.94,830.30L332.16,830.30L332.16,830.30L338.38,830.30L338.38,731.90L344.60,731.90L344.60,805.70L350.82,805.70L350.82,805.70L357.04,805.70L357.04,805.70L363.26,805.70L363.26,830.30L369.48,830.30L369.48,805.70L375.70,805.70L375.70,731.90L381.92,731.90L381.92,781.10L388.14,781.10L388.14,731.90L394.36,731.90L394.36,559.70L400.58,559.70L400.58,756.50L406.80,756.50L406.80,682.70L413.02,682.70L413.02,608.90L419.24,608.90L419.24,633.50L425.46,633.50L425.46,633.50L431.68,633.50L431.68,707.30L437.90,707.30L437.90,633.50L444.12,633.50L444.12,535.10L450.34,535.10L450.34,658.10L456.56,658.10L456.56,658.10L462.78,658.10L462.78,608.90L469.00,608.90L469.00,584.30L475.22,584.30L475.22,658.10L481.44,658.10L481.44,559.70L487.66,559.70L487.66,608.90L493.88,608.90L493.88,682.70L500.10,682.70L500.10,707.30L506.32,707.30L506.32,584.30L512.54,584.30L512.54,756.50L518.76,756.50L518.76,707.30L524.98,707.30L524.98,731.90L531.20,731.90L531.20,658.10L537.42,658.10L537.42,658.10L543.64,658.10L543.64,584.30L549.86,584.30L549.86,658.10L556.08,658.10L556.08,805.70L562.30,805.70L562.30,756.50L568.52,756.50L568.52,608.90L574.74,608.90L574.74,805.70L580.96,805.70L580.96,682.70L587.18,682.70L587.18,707.30L593.40,707.30L593.40,707.30L599.62,707.30L599.62,781.10L605.84,781.10L605.84,805.70L612.06,805.70L612.06,756.50L618.28,756.50L618.28,781.10L624.50,781.10L624.50,805.70L630.72,805.70L630.72,854.90L636.94,854.90L636.94,805.70L643.16,805.70L643.16,731.90L649.38,731.90L649.38,830.30L655.60,830.30L655.60,781.10L661.82,781.10L661.82,879.50L668.04,879.50L668.04,854.90L674.26,854.90L674.26,879.50L680.48,879.50L680.48,830.30L686.70,830.30L686.70,879.50L692.92,879.50L692.92,830.30L699.14,830.30L699.14,805.70L705.36,805.70L705.36,879.50L711.58,879.50L711.58,854.90L717.80,854.90L717.80,879.50L724.02,879.50L724.02,830.30L730.24,830.30L730.24,854.90L736.46,854.90L736.46,854.90L742.68,854.90L742.68,879.50L748.90,879.50L748.90,879.50L755.12,879.50L755.12,830.30L761.34,830.30L761.34,879.50L767.56,879.50L767.56,879.50L773.78,879.50L773.78,854.90L780.00,854.90L780.00,879.5Z" fill="#1f77b4" clip-path="url(#cBL)"/>
<path d="M1324.5,36.5V397.5M1457.5,36.5V397.5M1590.5,36.5V397.5M1722.5,36.5V397.5M1855.5,36.5V397.5M1279.5,84.5H1964.5M1279.5,179.5H1964.5M1279.5,275.5H1964.5M1279.5,371.5H1964.5" stroke="#0000ff" stroke-width="1.1" fill="none"/>
<path d="M1324.5,518.5V879.5M1457.5,518.5V879.5M1590.5,518.5V879.5M1722.5,518.5V879.5M1855.5,518.5V879.5M1279.5,541.5H1964.5M1279.5,617.5H1964.5M1279.5,692.5H1964.5M1279.5,768.5H1964.5M1279.5,843.5H1964.5" stroke="#0000ff" stroke-width="1.1" fill="none"/>
<path d="M219.5,518.5V879.5M349.5,518.5V879.5M480.5,518.5V879.5M610.5,518.5V879.5M740.5,518.5V879.5M127.5,633.5H811.5M127.5,756.5H811.5M127.5,879.5H811.5" stroke="#0000ff" stroke-width="1.1" fill="none"/>
<path d="M1324.5,397.5v4.9M1457.5,397.5v4.9M1590.5,397.5v4.9M1722.5,397.5v4.9M1855.5,397.5v4.9M1279.5,84.5h-4.9M1279.5,179.5h-4.9M1279.5,275.5h-4.9M1279.5,371.5h-4.9M1279.5,36.5H1964.5V397.5H1279.5Z" stroke="#000" stroke-width="1.1" fill="none" stroke-linecap="butt" stroke-linejoin="miter"/>
<path d="M1324.5,879.5v4.9M1457.5,879.5v4.9M1590.5,879.5v4.9M1722.5,879.5v4.9M1855.5,879.5v4.9M1279.5,541.5h-4.9M1279.5,617.5h-4.9M1279.5,692.5h-4.9M1279.5,768.5h-4.9M1279.5,843.5h-4.9M1279.5,518.5H1964.5V879.5H1279.5Z" stroke="#000" stroke-width="1.1" fill="none" stroke-linecap="butt" stroke-linejoin="miter"/>
<path d="M219.5,879.5v4.9M349.5,879.5v4.9M480.5,879.5v4.9M610.5,879.5v4.9M740.5,879.5v4.9M127.5,633.5h-4.9M127.5,756.5h-4.9M127.5,879.5h-4.9M127.5,518.5H811.5V879.5H127.5Z" stroke="#000" stroke-width="1.1" fill="none" stroke-linecap="butt" stroke-linejoin="miter"/>
<g id="labels" style="opacity:0.999">
<text x="1298.50" y="431.66" font-size="35.31" textLength="49.91" lengthAdjust="spacingAndGlyphs">0.5</text>
<text x="1298.50" y="913.66" font-size="35.31" textLength="49.91" lengthAdjust="spacingAndGlyphs">0.5</text>
<text x="1432.25" y="431.66" font-size="35.31" textLength="50.16" lengthAdjust="spacingAndGlyphs">1.0</text>
<text x="1432.25" y="913.66" font-size="35.31" textLength="50.16" lengthAdjust="spacingAndGlyphs">1.0</text>
<text x="1565.51" y="431.65" font-size="35.83" textLength="49.18" lengthAdjust="spacingAndGlyphs">1.5</text>
<text x="1565.51" y="913.65" font-size="35.83" textLength="49.18" lengthAdjust="spacingAndGlyphs">1.5</text>
<text x="1696.44" y="431.66" font-size="35.31" textLength="51.30" lengthAdjust="spacingAndGlyphs">2.0</text>
<text x="1696.44" y="913.66" font-size="35.31" textLength="51.30" lengthAdjust="spacingAndGlyphs">2.0</text>
<text x="1829.54" y="431.66" font-size="35.31" textLength="51.41" lengthAdjust="spacingAndGlyphs">2.5</text>
<text x="1829.54" y="913.66" font-size="35.31" textLength="51.41" lengthAdjust="spacingAndGlyphs">2.5</text>
<text x="1189.87" y="386.65" font-size="38.81" textLength="25.24" lengthAdjust="spacingAndGlyphs">−</text>
<text x="1216.11" y="383.66" font-size="35.31" textLength="52.37" lengthAdjust="spacingAndGlyphs">2.0</text>
<text x="1189.87" y="290.65" font-size="38.81" textLength="25.24" lengthAdjust="spacingAndGlyphs">−</text>
<text x="1217.25" y="287.65" font-size="35.83" textLength="50.27" lengthAdjust="spacingAndGlyphs">1.5</text>
<text x="1189.87" y="194.65" font-size="38.81" textLength="25.24" lengthAdjust="spacingAndGlyphs">−</text>
<text x="1217.19" y="191.66" font-size="35.31" textLength="51.25" lengthAdjust="spacingAndGlyphs">1.0</text>
<text x="1189.87" y="99.65" font-size="38.81" textLength="25.24" lengthAdjust="spacingAndGlyphs">−</text>
<text x="1216.57" y="96.66" font-size="35.31" textLength="50.97" lengthAdjust="spacingAndGlyphs">0.5</text>
<text x="1169.87" y="858.65" font-size="38.81" textLength="25.24" lengthAdjust="spacingAndGlyphs">−</text>
<text x="1196.55" y="855.66" font-size="35.31" textLength="72.32" lengthAdjust="spacingAndGlyphs">0.02</text>
<text x="1169.87" y="783.65" font-size="38.81" textLength="25.24" lengthAdjust="spacingAndGlyphs">−</text>
<text x="1196.55" y="780.66" font-size="35.31" textLength="72.26" lengthAdjust="spacingAndGlyphs">0.01</text>
<text x="1196.56" y="704.66" font-size="35.31" textLength="71.89" lengthAdjust="spacingAndGlyphs">0.00</text>
<text x="1196.57" y="629.66" font-size="35.31" textLength="71.22" lengthAdjust="spacingAndGlyphs">0.01</text>
<text x="1196.57" y="553.66" font-size="35.31" textLength="71.27" lengthAdjust="spacingAndGlyphs">0.02</text>
<text x="170.17" y="916.65" font-size="38.81" textLength="25.24" lengthAdjust="spacingAndGlyphs">−</text>
<text x="196.85" y="913.66" font-size="35.31" textLength="72.32" lengthAdjust="spacingAndGlyphs">0.02</text>
<text x="300.07" y="916.65" font-size="38.81" textLength="25.24" lengthAdjust="spacingAndGlyphs">−</text>
<text x="326.75" y="913.66" font-size="35.31" textLength="72.26" lengthAdjust="spacingAndGlyphs">0.01</text>
<text x="443.66" y="913.66" font-size="35.31" textLength="71.89" lengthAdjust="spacingAndGlyphs">0.00</text>
<text x="574.02" y="913.66" font-size="35.31" textLength="71.22" lengthAdjust="spacingAndGlyphs">0.01</text>
<text x="704.02" y="913.66" font-size="35.31" textLength="71.27" lengthAdjust="spacingAndGlyphs">0.02</text>
<text x="96.61" y="891.66" font-size="35.31" textLength="19.78" lengthAdjust="spacingAndGlyphs">0</text>
<text x="97.73" y="768.65" font-size="35.83" textLength="17.60" lengthAdjust="spacingAndGlyphs">5</text>
<text x="76.33" y="645.66" font-size="35.31" textLength="39.05" lengthAdjust="spacingAndGlyphs">10</text>
<text x="339.53" y="952.65" font-size="35.40" textLength="148.81" lengthAdjust="spacingAndGlyphs">residuals</text>
<text x="499.13" y="952.65" font-size="35.40" textLength="100.74" lengthAdjust="spacingAndGlyphs">[mag]</text>
<text x="0.00" y="0.00" font-size="35.40" textLength="133.71" lengthAdjust="spacingAndGlyphs" transform="translate(63.65,769.08) rotate(-90)">Number</text>
<text x="0.00" y="0.00" font-size="35.40" textLength="148.81" lengthAdjust="spacingAndGlyphs" transform="translate(1151.65,829.47) rotate(-90)">residuals</text>
<text x="0.00" y="0.00" font-size="35.40" textLength="100.74" lengthAdjust="spacingAndGlyphs" transform="translate(1151.65,669.87) rotate(-90)">[mag]</text>
<text x="0.00" y="0.00" font-size="35.00" textLength="110.73" lengthAdjust="spacingAndGlyphs" transform="translate(1173.40,385.73) rotate(-90)">G_gaia</text>
<text x="0.00" y="0.00" font-size="35.00" textLength="12.28" lengthAdjust="spacingAndGlyphs" transform="translate(1173.40,261.64) rotate(-90)">-</text>
<text x="0.00" y="0.00" font-size="35.00" textLength="189.84" lengthAdjust="spacingAndGlyphs" transform="translate(1173.40,238.49) rotate(-90)">g_ComCam</text>
<text x="195.01" y="108.20" font-size="35.00" textLength="189.84" lengthAdjust="spacingAndGlyphs">g_ComCam</text>
<text x="395.69" y="108.20" font-size="35.00" textLength="50.79" lengthAdjust="spacingAndGlyphs">--&gt;</text>
<text x="458.77" y="108.20" font-size="35.00" textLength="110.73" lengthAdjust="spacingAndGlyphs">G_gaia</text>
<text x="1521.36" y="470.33" font-size="32.20" textLength="8.79" lengthAdjust="spacingAndGlyphs">(</text>
<text x="1533.93" y="472.76" font-size="34.89" textLength="19.37" lengthAdjust="spacingAndGlyphs" font-style="italic">g</text>
<text x="1560.87" y="475.45" font-size="38.81" textLength="25.24" lengthAdjust="spacingAndGlyphs">−</text>
<text x="1595.44" y="473.00" font-size="35.88" textLength="7.78" lengthAdjust="spacingAndGlyphs" font-style="italic">i</text>
<text x="1606.85" y="470.33" font-size="32.20" textLength="8.79" lengthAdjust="spacingAndGlyphs">)</text>
<text x="1616.61" y="477.77" font-size="24.01" textLength="106.56" lengthAdjust="spacingAndGlyphs" font-style="italic">ComCam</text>
<text x="1521.36" y="952.33" font-size="32.20" textLength="8.79" lengthAdjust="spacingAndGlyphs">(</text>
<text x="1533.93" y="954.76" font-size="34.89" textLength="19.37" lengthAdjust="spacingAndGlyphs" font-style="italic">g</text>
<text x="1560.87" y="957.45" font-size="38.81" textLength="25.24" lengthAdjust="spacingAndGlyphs">−</text>
<text x="1595.44" y="955.00" font-size="35.88" textLength="7.78" lengthAdjust="spacingAndGlyphs" font-style="italic">i</text>
<text x="1606.85" y="952.33" font-size="32.20" textLength="8.79" lengthAdjust="spacingAndGlyphs">)</text>
<text x="1616.61" y="959.77" font-size="24.01" textLength="106.56" lengthAdjust="spacingAndGlyphs" font-style="italic">ComCam</text>
<text x="127.84" y="253.00" font-size="17.50" textLength="55.16" lengthAdjust="spacingAndGlyphs">G_gaia</text>
<text x="189.68" y="253.00" font-size="17.50" textLength="6.14" lengthAdjust="spacingAndGlyphs">-</text>
<text x="201.25" y="253.00" font-size="17.50" textLength="95.43" lengthAdjust="spacingAndGlyphs">g_ComCam</text>
<text x="301.18" y="253.00" font-size="17.50" textLength="13.34" lengthAdjust="spacingAndGlyphs">=</text>
<text x="320.66" y="253.00" font-size="17.50" textLength="53.39" lengthAdjust="spacingAndGlyphs">-0.054</text>
<text x="380.41" y="253.00" font-size="17.50" textLength="12.98" lengthAdjust="spacingAndGlyphs">+</text>
<text x="399.16" y="253.00" font-size="17.50" textLength="66.95" lengthAdjust="spacingAndGlyphs">-0.610*(</text>
<text x="467.47" y="253.00" font-size="17.50" textLength="9.69" lengthAdjust="spacingAndGlyphs" font-style="italic">g</text>
<text x="481.98" y="253.93" font-size="19.40" textLength="12.02" lengthAdjust="spacingAndGlyphs">−</text>
<text x="498.43" y="253.00" font-size="17.50" textLength="3.69" lengthAdjust="spacingAndGlyphs" font-style="italic">i</text>
<text x="503.40" y="253.00" font-size="17.50" textLength="5.40" lengthAdjust="spacingAndGlyphs">)</text>
<text x="509.80" y="255.80" font-size="12.25" textLength="53.79" lengthAdjust="spacingAndGlyphs" font-style="italic">ComCam</text>
<text x="569.64" y="253.00" font-size="17.50" textLength="12.62" lengthAdjust="spacingAndGlyphs">+</text>
<text x="587.97" y="253.00" font-size="17.50" textLength="66.64" lengthAdjust="spacingAndGlyphs">-0.033*(</text>
<text x="656.97" y="253.00" font-size="17.50" textLength="9.69" lengthAdjust="spacingAndGlyphs" font-style="italic">g</text>
<text x="670.98" y="253.93" font-size="19.40" textLength="12.02" lengthAdjust="spacingAndGlyphs">−</text>
<text x="688.45" y="253.00" font-size="17.50" textLength="3.40" lengthAdjust="spacingAndGlyphs" font-style="italic">i</text>
<text x="692.91" y="253.00" font-size="17.50" textLength="5.02" lengthAdjust="spacingAndGlyphs">)</text>
<text x="698.80" y="255.80" font-size="12.25" textLength="53.28" lengthAdjust="spacingAndGlyphs" font-style="italic">ComCam</text>
<text x="754.89" y="253.00" font-size="17.50" textLength="22.19" lengthAdjust="spacingAndGlyphs">^2</text>
<text x="787.67" y="253.00" font-size="17.50" textLength="37.26" lengthAdjust="spacingAndGlyphs">[-0.7</text>
<text x="831.38" y="253.00" font-size="17.50" textLength="13.22" lengthAdjust="spacingAndGlyphs">&lt;</text>
<text x="850.06" y="253.00" font-size="17.50" textLength="5.02" lengthAdjust="spacingAndGlyphs">(</text>
<text x="857.47" y="253.00" font-size="17.50" textLength="9.18" lengthAdjust="spacingAndGlyphs" font-style="italic">g</text>
<text x="871.48" y="253.93" font-size="19.40" textLength="12.02" lengthAdjust="spacingAndGlyphs">−</text>
<text x="888.45" y="253.00" font-size="17.50" textLength="3.40" lengthAdjust="spacingAndGlyphs" font-style="italic">i</text>
<text x="893.41" y="253.00" font-size="17.50" textLength="5.02" lengthAdjust="spacingAndGlyphs">)</text>
<text x="898.80" y="255.80" font-size="12.25" textLength="53.79" lengthAdjust="spacingAndGlyphs" font-style="italic">ComCam</text>
<text x="958.35" y="253.00" font-size="17.50" textLength="27.31" lengthAdjust="spacingAndGlyphs">&lt;=</text>
<text x="990.73" y="253.00" font-size="17.50" textLength="33.71" lengthAdjust="spacingAndGlyphs">3.0]</text>
<text x="1029.56" y="253.00" font-size="17.50" textLength="44.78" lengthAdjust="spacingAndGlyphs">[rms:</text>
<text x="1078.72" y="253.00" font-size="17.50" textLength="55.19" lengthAdjust="spacingAndGlyphs">0.008]</text>
</g>
</svg>
</body></html>
